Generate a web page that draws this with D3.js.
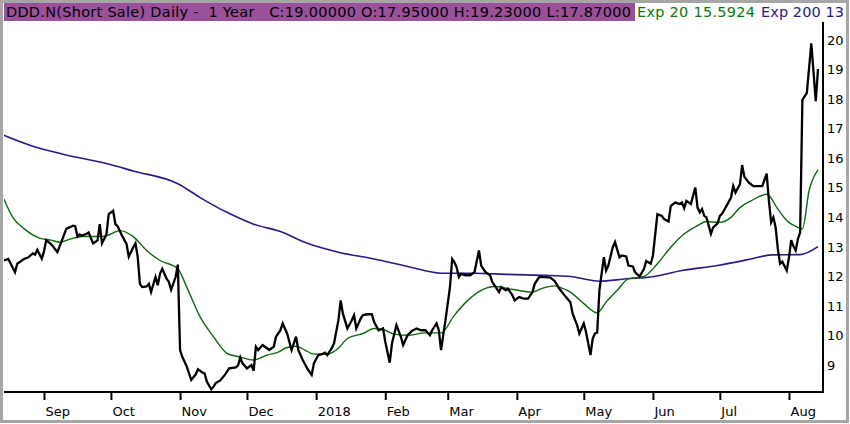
<!DOCTYPE html>
<html>
<head>
<meta charset="utf-8">
<script src="https://cdn.jsdelivr.net/npm/d3@7"></script>
<style>
  body { margin: 0; background: #fff; }
  svg { display: block; font-family: "DejaVu Sans", Verdana, sans-serif; }
</style>
</head>
<body>
<div id="chart"></div>
<script>

// Chart values
var priceDates = [
  "2017-08-14","2017-08-16","2017-08-19","2017-08-20","2017-08-23","2017-08-25","2017-08-27","2017-08-28",
  "2017-08-29","2017-08-31","2017-09-01","2017-09-02","2017-09-04","2017-09-05","2017-09-07","2017-09-09",
  "2017-09-11","2017-09-14","2017-09-15","2017-09-16","2017-09-17","2017-09-18","2017-09-20","2017-09-21",
  "2017-09-23","2017-09-25","2017-09-26","2017-09-27","2017-09-29","2017-09-30","2017-10-02","2017-10-03",
  "2017-10-04","2017-10-06","2017-10-08","2017-10-09","2017-10-11","2017-10-12","2017-10-13","2017-10-14",
  "2017-10-15","2017-10-17","2017-10-18","2017-10-19","2017-10-21","2017-10-22","2017-10-23","2017-10-24",
  "2017-10-26","2017-10-27","2017-10-28","2017-10-30","2017-10-31","2017-11-01","2017-11-02","2017-11-04",
  "2017-11-06","2017-11-08","2017-11-09","2017-11-11","2017-11-12","2017-11-13","2017-11-15","2017-11-16",
  "2017-11-17","2017-11-19","2017-11-21","2017-11-23","2017-11-26","2017-11-27","2017-11-28","2017-11-29",
  "2017-12-01","2017-12-03","2017-12-04","2017-12-05","2017-12-06","2017-12-08","2017-12-10","2017-12-11",
  "2017-12-13","2017-12-14","2017-12-16","2017-12-17","2017-12-19","2017-12-21","2017-12-23","2017-12-24",
  "2017-12-26","2017-12-28","2017-12-30","2017-12-31","2018-01-02","2018-01-04","2018-01-05","2018-01-06",
  "2018-01-08","2018-01-09","2018-01-11","2018-01-12","2018-01-13","2018-01-15","2018-01-17","2018-01-18",
  "2018-01-19","2018-01-21","2018-01-22","2018-01-24","2018-01-26","2018-01-27","2018-01-29","2018-01-31",
  "2018-02-01","2018-02-03","2018-02-04","2018-02-06","2018-02-08","2018-02-09","2018-02-11","2018-02-13",
  "2018-02-15","2018-02-17","2018-02-19","2018-02-21","2018-02-22","2018-02-24","2018-02-25","2018-02-26",
  "2018-02-28","2018-03-02","2018-03-03","2018-03-04","2018-03-05","2018-03-06","2018-03-07","2018-03-09",
  "2018-03-11","2018-03-13","2018-03-15","2018-03-16","2018-03-18","2018-03-20","2018-03-21","2018-03-24",
  "2018-03-25","2018-03-27","2018-03-28","2018-03-30","2018-03-31","2018-04-02","2018-04-04","2018-04-06",
  "2018-04-08","2018-04-09","2018-04-11","2018-04-14","2018-04-16","2018-04-18","2018-04-20","2018-04-23",
  "2018-04-25","2018-04-26","2018-04-28","2018-04-29","2018-05-01","2018-05-02","2018-05-04","2018-05-05",
  "2018-05-06","2018-05-07","2018-05-08","2018-05-10","2018-05-11","2018-05-12","2018-05-14","2018-05-15",
  "2018-05-17","2018-05-18","2018-05-20","2018-05-21","2018-05-23","2018-05-24","2018-05-26","2018-05-28",
  "2018-05-29","2018-05-31","2018-06-01","2018-06-03","2018-06-05","2018-06-06","2018-06-08","2018-06-09",
  "2018-06-11","2018-06-13","2018-06-14","2018-06-15","2018-06-16","2018-06-18","2018-06-19","2018-06-20",
  "2018-06-21","2018-06-22","2018-06-23","2018-06-24","2018-06-25","2018-06-27","2018-06-28","2018-06-30",
  "2018-07-01","2018-07-02","2018-07-04","2018-07-06","2018-07-07","2018-07-08","2018-07-10","2018-07-11",
  "2018-07-12","2018-07-14","2018-07-16","2018-07-18","2018-07-20","2018-07-22","2018-07-23","2018-07-24",
  "2018-07-25","2018-07-26","2018-07-27","2018-07-28","2018-07-29","2018-07-31","2018-08-01","2018-08-02",
  "2018-08-03","2018-08-04","2018-08-05","2018-08-06","2018-08-07","2018-08-09","2018-08-11","2018-08-13",
  "2018-08-14"
];
var priceValues = [
  12.52,12.57,12.12,12.41,12.57,12.63,12.76,12.72,
  12.88,12.58,12.83,13.21,13.08,13.00,12.80,13.19,
  13.59,13.70,13.68,13.33,13.40,13.36,13.42,13.47,
  13.10,13.20,13.75,13.10,13.40,14.09,14.20,13.75,
  13.68,13.36,13.08,12.65,12.97,13.10,12.65,11.73,
  11.62,11.64,11.73,11.45,11.96,11.68,12.07,12.24,
  11.90,11.79,11.53,11.96,12.38,9.49,9.26,8.93,
  8.48,8.66,8.84,8.73,8.70,8.42,8.16,8.25,
  8.37,8.46,8.64,8.87,8.90,8.97,9.24,9.04,
  8.87,8.98,8.79,9.60,9.49,9.66,9.55,9.49,
  9.60,9.94,10.16,10.39,10.05,9.49,9.94,9.49,
  9.15,8.87,8.65,9.04,9.32,9.36,9.40,9.32,
  9.55,9.71,10.50,11.17,10.72,10.22,10.50,10.67,
  10.22,10.56,10.67,10.70,10.70,10.44,10.16,10.22,
  9.77,9.06,9.71,10.33,9.94,9.66,9.99,10.14,
  10.22,10.16,10.16,9.99,10.16,10.39,10.16,9.49,
  10.50,11.62,12.57,12.46,12.29,11.96,12.07,12.02,
  12.02,12.12,12.86,12.35,12.12,12.02,11.79,11.45,
  11.62,11.51,11.57,11.34,11.17,11.28,11.23,11.23,
  11.45,11.73,11.96,11.96,11.94,11.82,11.57,11.28,
  11.11,10.72,10.33,10.05,10.39,10.10,9.32,9.88,
  10.05,10.08,11.51,12.63,12.18,12.35,12.97,13.14,
  12.63,12.69,12.66,12.35,12.32,12.12,11.98,12.24,
  12.50,12.41,12.69,14.09,14.03,13.92,13.84,14.37,
  14.48,14.43,14.48,14.29,14.54,14.43,14.71,14.99,
  14.31,14.15,14.26,14.03,13.98,13.42,13.64,13.78,
  14.03,14.10,14.37,14.65,15.04,14.82,15.10,15.75,
  15.35,15.15,15.04,15.04,15.04,15.46,14.54,13.81,
  13.98,13.64,12.91,12.41,12.48,12.18,12.63,13.21,
  13.00,12.86,13.25,13.47,17.96,18.19,19.87,17.91,
  19.00
];

var ema20Dates = [
  "2017-08-14","2017-08-18","2017-08-23","2017-08-30","2017-09-04","2017-09-08","2017-09-13","2017-09-18",
  "2017-09-26","2017-09-29","2017-10-05","2017-10-11","2017-10-17","2017-10-23","2017-10-31","2017-11-04",
  "2017-11-10","2017-11-16","2017-11-22","2017-11-28","2017-12-04","2017-12-10","2017-12-16","2017-12-18",
  "2017-12-23","2017-12-27","2017-12-31","2018-01-06","2018-01-11","2018-01-15","2018-01-22","2018-01-27",
  "2018-02-01","2018-02-05","2018-02-11","2018-02-19","2018-02-26","2018-03-04","2018-03-10","2018-03-16",
  "2018-03-22","2018-03-28","2018-04-03","2018-04-08","2018-04-12","2018-04-18","2018-04-20","2018-04-25",
  "2018-05-01","2018-05-07","2018-05-11","2018-05-16","2018-05-21","2018-05-28","2018-06-03","2018-06-09",
  "2018-06-14","2018-06-21","2018-06-25","2018-07-01","2018-07-06","2018-07-10","2018-07-15","2018-07-22",
  "2018-07-27","2018-07-31","2018-08-05","2018-08-07","2018-08-10","2018-08-14"
];
var ema20Values = [
  14.60,13.98,13.60,13.28,13.21,13.14,13.25,13.33,
  13.33,13.36,13.53,13.33,12.86,12.52,12.24,11.62,
  10.61,9.94,9.38,9.25,9.15,9.32,9.45,9.55,
  9.62,9.49,9.35,9.35,9.55,9.88,10.05,10.22,
  10.16,10.03,9.99,10.07,10.07,10.67,11.17,11.51,
  11.64,11.57,11.49,11.45,11.57,11.66,11.62,11.45,
  11.06,10.75,11.11,11.51,11.90,11.98,12.41,12.97,
  13.36,13.70,13.84,13.81,13.98,14.31,14.54,14.76,
  14.26,13.87,13.64,13.59,14.88,15.59
];

var ema200Dates = [
  "2017-08-14","2017-08-27","2017-09-10","2017-09-29","2017-10-11","2017-10-31","2017-11-10","2017-11-22",
  "2017-12-04","2017-12-16","2017-12-28","2018-01-11","2018-01-27","2018-02-11","2018-02-26","2018-03-13",
  "2018-03-28","2018-04-16","2018-04-25","2018-05-08","2018-05-20","2018-05-31","2018-06-14","2018-06-30",
  "2018-07-15","2018-07-24","2018-08-06","2018-08-14"
];
var ema200Values = [
  16.76,16.39,16.11,15.80,15.55,15.12,14.65,14.15,
  13.75,13.50,13.10,12.80,12.57,12.32,12.09,12.09,
  12.05,12.01,11.98,11.82,11.90,11.96,12.18,12.35,
  12.57,12.71,12.72,12.99
];

var yTicks = [9, 10, 11, 12, 13, 14, 15, 16, 17, 18, 19, 20];
var monthNames = ["Jan","Feb","Mar","Apr","May","Jun","Jul","Aug","Sep","Oct","Nov","Dec"];

var headerTitle = "DDD.N(Short Sale) Daily -  1 Year   C:19.00000 O:17.95000 H:19.23000 L:17.87000";
var headerEma20 = "Exp 20 15.5924";
var headerEma200 = "Exp 200 13";

// Dimensions
var W = 850, H = 424;
var plot = { left: 4, right: 823, top: 22, bottom: 392 };

var parse = d3.timeParse("%Y-%m-%d");
function zip(dates, values) {
    return dates.map(function (d, i) { return { date: parse(d), value: values[i] }; });
}
var price = zip(priceDates, priceValues);
var ema20 = zip(ema20Dates, ema20Values);
var ema200 = zip(ema200Dates, ema200Values);

// Scales (month starts Sep 2017 .. Aug 2018 fixed on the pixel grid)
var x = d3.scaleTime()
    .domain([parse("2017-09-01"), parse("2018-08-01")])
    .range([44, 789]);
var y = d3.scaleLinear()
    .domain([9, 20])
    .range([364.5, 39.5]);

var svg = d3.select("#chart").append("svg")
    .attr("width", W)
    .attr("height", H);

svg.append("rect")
    .attr("width", W).attr("height", H)
    .attr("fill", "#fff");

// Outer grey frame
svg.append("rect")
    .attr("x", 1.5).attr("y", 1.5)
    .attr("width", W - 4).attr("height", H - 4)
    .attr("fill", "none")
    .attr("stroke", "#a6a6a6")
    .attr("stroke-width", 3);

// Clip for the series
svg.append("clipPath").attr("id", "plotClip")
    .append("rect")
    .attr("x", plot.left).attr("y", plot.top)
    .attr("width", plot.right - plot.left)
    .attr("height", plot.bottom - plot.top);

var line = d3.line()
    .x(function (d) { return x(d.date); })
    .y(function (d) { return y(d.value); });

// moving averages are drawn smooth
var smoothLine = d3.line()
    .curve(d3.curveMonotoneX)
    .x(function (d) { return x(d.date); })
    .y(function (d) { return y(d.value); });

var series = svg.append("g").attr("clip-path", "url(#plotClip)");

series.append("path")
    .datum(ema200)
    .attr("fill", "none")
    .attr("stroke", "#2a1a86")
    .attr("stroke-width", 1.6)
    .attr("d", smoothLine);

series.append("path")
    .datum(ema20)
    .attr("fill", "none")
    .attr("stroke", "#0b6b0b")
    .attr("stroke-width", 1.4)
    .attr("d", smoothLine);

series.append("path")
    .datum(price)
    .attr("fill", "none")
    .attr("stroke", "#000")
    .attr("stroke-width", 2.3)
    .attr("stroke-linejoin", "miter")
    .attr("d", line);

// Bottom axis
var xAxis = d3.axisBottom(x)
    .ticks(d3.timeMonth.every(1))
    .tickSize(8)
    .tickSizeOuter(0)
    .tickFormat(function (d) {
        return d.getMonth() === 0 ? d3.timeFormat("%Y")(d) : monthNames[d.getMonth()];
    });

var gx = svg.append("g")
    .attr("transform", "translate(0," + plot.bottom + ")")
    .call(xAxis);
gx.select(".domain").remove();
gx.selectAll(".tick line").attr("stroke", "#000").attr("stroke-width", 2);
gx.selectAll(".tick text")
    .attr("fill", "#000")
    .attr("font-size", 13)
    .attr("font-family", "DejaVu Sans, Verdana, sans-serif")
    .attr("text-anchor", "start")
    .attr("x", 1)
    .attr("y", 24)
    .attr("dy", 0);

// Right axis
var yAxis = d3.axisRight(y)
    .tickValues(yTicks)
    .tickSize(0)
    .tickPadding(4);

var gy = svg.append("g")
    .attr("transform", "translate(" + plot.right + ",0)")
    .call(yAxis);
gy.select(".domain").remove();
gy.selectAll(".tick text")
    .attr("fill", "#000")
    .attr("font-size", 13)
    .attr("font-family", "DejaVu Sans, Verdana, sans-serif")
    .attr("dy", "0.36em");

// Axis lines
svg.append("line")
    .attr("x1", plot.left).attr("x2", plot.right + 1)
    .attr("y1", plot.bottom).attr("y2", plot.bottom)
    .attr("stroke", "#000").attr("stroke-width", 2);
svg.append("line")
    .attr("x1", plot.right).attr("x2", plot.right)
    .attr("y1", plot.top).attr("y2", plot.bottom)
    .attr("stroke", "#000").attr("stroke-width", 2);

// Header
svg.append("rect")
    .attr("x", 4).attr("y", 3)
    .attr("width", 631).attr("height", 18)
    .attr("fill", "#9a509a");

svg.append("text")
    .attr("x", 6).attr("y", 17)
    .attr("font-size", 14.5)
    .attr("fill", "#000")
    .attr("textLength", 625)
    .style("white-space", "pre")
    .text(headerTitle);

svg.append("text")
    .attr("x", 637).attr("y", 17)
    .attr("font-size", 14.5)
    .attr("fill", "#0a7a0a")
    .attr("textLength", 118)
    .style("white-space", "pre")
    .text(headerEma20);

svg.append("text")
    .attr("x", 761).attr("y", 17)
    .attr("font-size", 14.5)
    .attr("fill", "#2a1a86")
    .attr("textLength", 83)
    .style("white-space", "pre")
    .text(headerEma200);

</script>
</body>
</html>
